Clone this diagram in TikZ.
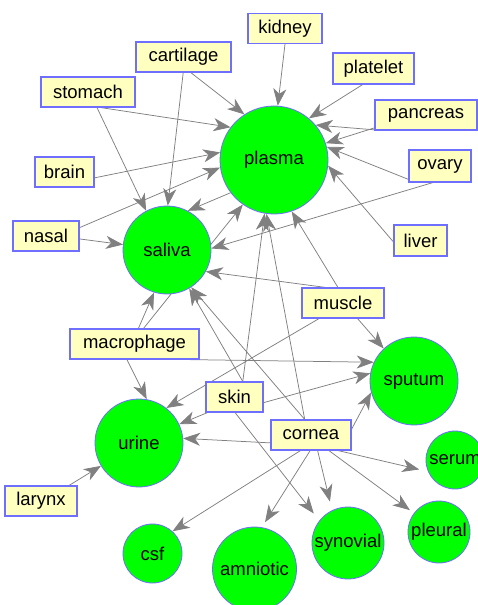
\documentclass[tikz,border=0pt]{standalone}
\usepackage{fontspec}
\setmainfont{Liberation Sans}
\usetikzlibrary{arrows.meta,backgrounds}
\definecolor{boxfill}{RGB}{255,255,192}
\definecolor{boxline}{RGB}{110,110,255}
\definecolor{fluidgreen}{RGB}{0,255,0}
\definecolor{edgegray}{RGB}{128,128,128}
\tikzset{
  tissue/.style={rectangle, draw=boxline, line width=1.1pt, fill=boxfill,
    minimum height=30pt, inner sep=0pt, font=\fontsize{18.5}{20}\selectfont},
  fluid/.style={circle, draw=boxline, line width=0.8pt, fill=fluidgreen,
    inner sep=0pt, font=\fontsize{18.5}{20}\selectfont},
  edge/.style={draw=edgegray, line width=0.75pt,
    -{Stealth[length=17pt,width=13pt,inset=5pt]}},
}
\begin{document}
\begin{tikzpicture}[x=1pt,y=-1pt]
\useasboundingbox (0,0) rectangle (477,605);
% fluids
\node[fluid, minimum size=108pt] (plasma) at (274,160) {plasma};
\node[fluid, minimum size=88pt] (saliva) at (167,250) {saliva};
\node[fluid, minimum size=88pt] (sputum) at (414,381) {sputum};
\node[fluid, minimum size=88pt] (urine) at (139,443) {urine};
\node[fluid, minimum size=59pt] (csf) at (152.5,553.5) {csf};
\node[fluid, minimum size=84pt] (amniotic) at (254.5,569) {amniotic};
\node[fluid, minimum size=72pt] (synovial) at (348,543) {synovial};
\node[fluid, minimum size=62pt] (pleural) at (439,532) {pleural};
\node[fluid, minimum size=58pt] (serum) at (455,460) {serum};
% tissues
\node[tissue, minimum width=74pt] (kidney) at (285,28.5) {kidney};
\node[tissue, minimum width=95pt] (cartilage) at (183.5,57) {cartilage};
\node[tissue, minimum width=81pt, minimum height=31pt] (platelet) at (373.5,68.5) {platelet};
\node[tissue, minimum width=94pt] (stomach) at (88,92) {stomach};
\node[tissue, minimum width=102pt] (pancreas) at (426,115) {pancreas};
\node[tissue, minimum width=59pt] (brain) at (64.5,172) {brain};
\node[tissue, minimum width=62pt, minimum height=32pt] (ovary) at (440,166) {ovary};
\node[tissue, minimum width=66pt] (nasal) at (46,236) {nasal};
\node[tissue, minimum width=53pt, minimum height=31pt] (liver) at (420.5,240.5) {liver};
\node[tissue, minimum width=82pt] (muscle) at (343,303) {muscle};
\node[tissue, minimum width=129pt] (macrophage) at (134.5,344) {macrophage};
\node[tissue, minimum width=57pt] (skin) at (234.5,397) {skin};
\node[tissue, minimum width=80pt] (cornea) at (311,435) {cornea};
\node[tissue, minimum width=72pt] (larynx) at (41,501) {larynx};
% connectors
\begin{pgfonlayer}{background}
\fill[white] (0,0) rectangle (477,605);
\draw[edge] (kidney.-90) -- (plasma.86);
\draw[edge] (cartilage.-65) -- (plasma.123);
\draw[edge] (cartilage.-91) -- (saliva.89);
\draw[edge] (stomach.-51) -- (plasma.143);
\draw[edge] (stomach.-60) -- (saliva.118);
\draw[edge] (brain.-11) -- (plasma.172);
\draw[edge] (nasal.14) -- (plasma.-172);
\draw[edge] (nasal.-5) -- (saliva.173);
\draw[edge] (platelet.-124) -- (plasma.50);
\draw[edge] (pancreas.-160) -- (plasma.40);
\draw[edge] (pancreas.-166) -- (plasma.18);
\draw[edge] (ovary.-157) -- (plasma.14);
\draw[edge] (ovary.-113) -- (saliva.2);
\draw[edge] (liver.-177) -- (plasma.-6);
\draw[edge] (plasma.-143) -- (saliva.62);
\draw[edge] (macrophage.60) -- (plasma.-125);
\draw[edge] (macrophage.76) -- (saliva.-107);
\draw[edge] (macrophage.-116) -- (urine.80);
\draw[edge] (macrophage.-17) -- (sputum.155);
\draw[edge] (muscle.108) -- (plasma.-71);
\draw[edge] (muscle.138) -- (saliva.-29);
\draw[edge] (muscle.-47) -- (sputum.133);
\draw[edge] (muscle.-147) -- (urine.52);
\draw[edge] (skin.62) -- (plasma.-100);
\draw[edge] (skin.62) -- (saliva.-60);
\draw[edge] (skin.-11) -- (sputum.170);
\draw[edge] (skin.-150) -- (urine.25);
\draw[edge, shorten >=9pt] (skin.-88) -- (synovial.142);
\draw[edge] (cornea.112) -- (plasma.-98);
\draw[edge] (cornea.112) -- (saliva.-57);
\draw[edge] (cornea.-169) -- (urine.6);
\draw[edge] (cornea.8) -- (sputum.-165);
\draw[edge, shorten >=9pt] (cornea.-30) -- (serum.-157);
\draw[edge, shorten >=5pt] (cornea.-41) -- (pleural.143);
\draw[edge, shorten >=9pt] (cornea.-67) -- (synovial.116);
\draw[edge, shorten >=6pt] (cornea.-93) -- (amniotic.80);
\draw[edge] (cornea.-124) -- (csf.48);
\draw[edge] (larynx.29) -- (urine.-149);
\end{pgfonlayer}
\end{tikzpicture}
\end{document}
